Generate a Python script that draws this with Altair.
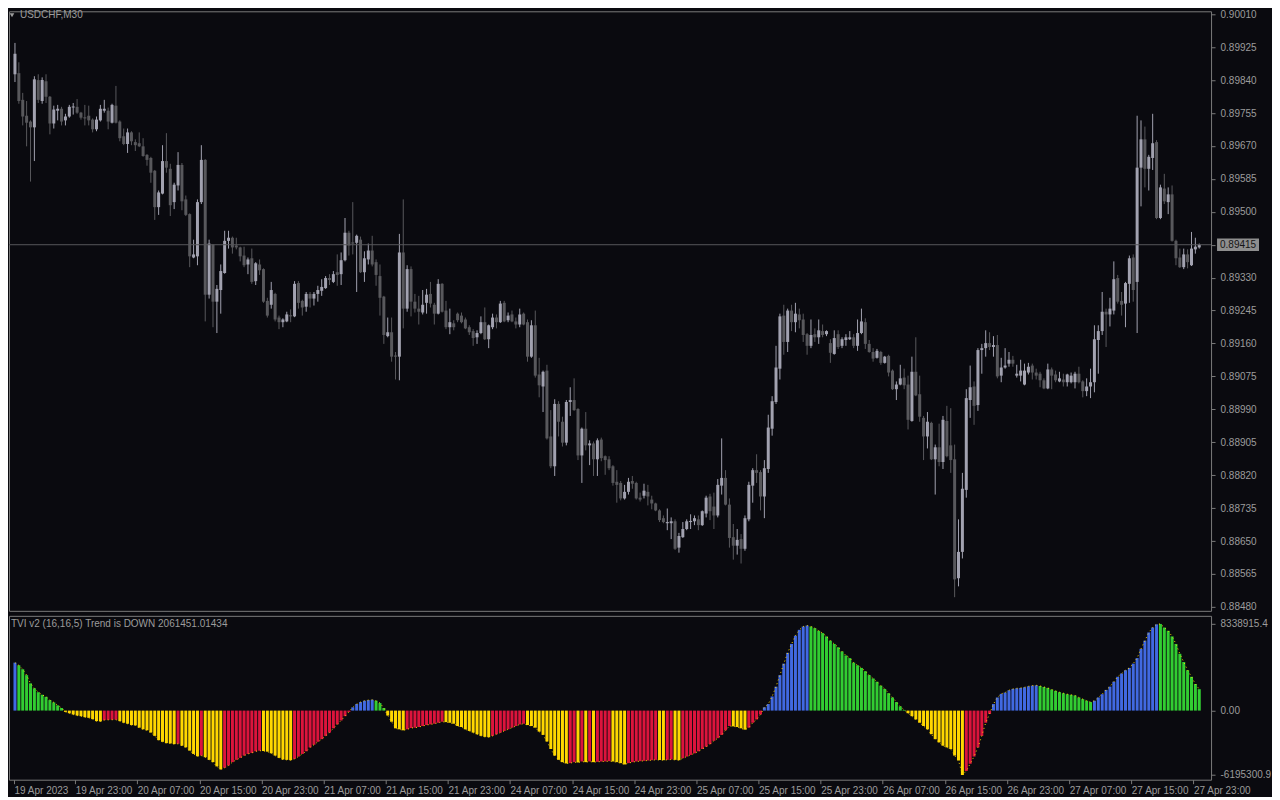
import altair as alt
import pandas as pd

SYMBOL_TITLE = "USDCHF,M30"
TVI_TITLE = "TVI v2 (16,16,5) Trend is DOWN 2061451.01434"
LAST_PRICE = 0.89415

open_ = [
    0.89855, 0.89858, 0.89789, 0.89748, 0.89733, 0.89718, 0.89840, 0.89786, 0.89837, 0.89797,
    0.89728, 0.89761, 0.89766, 0.89736, 0.89746, 0.89769, 0.89771, 0.89756, 0.89743, 0.89748,
    0.89738, 0.89713, 0.89736, 0.89761, 0.89761, 0.89730, 0.89774, 0.89733, 0.89695, 0.89675,
    0.89705, 0.89680, 0.89677, 0.89669, 0.89647, 0.89639, 0.89606, 0.89512, 0.89547, 0.89631,
    0.89611, 0.89525, 0.89568, 0.89621, 0.89532, 0.89494, 0.89382, 0.89385, 0.89525, 0.89634,
    0.89286, 0.89415, 0.89268, 0.89298, 0.89342, 0.89425, 0.89433, 0.89413, 0.89408, 0.89387,
    0.89364, 0.89380, 0.89321, 0.89364, 0.89352, 0.89270, 0.89260, 0.89288, 0.89227, 0.89215,
    0.89217, 0.89232, 0.89230, 0.89316, 0.89270, 0.89255, 0.89288, 0.89276, 0.89288, 0.89296,
    0.89303, 0.89329, 0.89319, 0.89344, 0.89339, 0.89375, 0.89446, 0.89420, 0.89420, 0.89428,
    0.89344, 0.89377, 0.89400, 0.89370, 0.89334, 0.89281, 0.89179, 0.89189, 0.89128, 0.89126,
    0.89395, 0.89250, 0.89352, 0.89268, 0.89250, 0.89240, 0.89265, 0.89288, 0.89260, 0.89237,
    0.89314, 0.89245, 0.89202, 0.89212, 0.89237, 0.89232, 0.89222, 0.89202, 0.89192, 0.89176,
    0.89187, 0.89215, 0.89171, 0.89202, 0.89227, 0.89215, 0.89265, 0.89220, 0.89235, 0.89217,
    0.89209, 0.89237, 0.89215, 0.89126, 0.89207, 0.89080, 0.89049, 0.89090, 0.88920, 0.88843,
    0.89004, 0.88958, 0.88904, 0.89009, 0.89014, 0.88991, 0.88871, 0.88940, 0.88897, 0.88902,
    0.88861, 0.88912, 0.88869, 0.88861, 0.88843, 0.88803, 0.88800, 0.88760, 0.88777, 0.88805,
    0.88800, 0.88762, 0.88767, 0.88777, 0.88757, 0.88747, 0.88729, 0.88709, 0.88696, 0.88696,
    0.88701, 0.88633, 0.88660, 0.88681, 0.88699, 0.88701, 0.88706, 0.88691, 0.88721, 0.88765,
    0.88739, 0.88716, 0.88793, 0.88813, 0.88744, 0.88660, 0.88638, 0.88655, 0.88630, 0.88706,
    0.88793, 0.88833, 0.88828, 0.88765, 0.88836, 0.88940, 0.89009, 0.89095, 0.89232, 0.89164,
    0.89245, 0.89215, 0.89235, 0.89222, 0.89184, 0.89154, 0.89184, 0.89176, 0.89192, 0.89184,
    0.89161, 0.89133, 0.89184, 0.89154, 0.89169, 0.89171, 0.89176, 0.89154, 0.89187, 0.89215,
    0.89159, 0.89138, 0.89123, 0.89138, 0.89110, 0.89128, 0.89090, 0.89042, 0.89054, 0.89072,
    0.89054, 0.88960, 0.89087, 0.89029, 0.88968, 0.88920, 0.88955, 0.88861, 0.88892, 0.88854,
    0.88960, 0.88897, 0.88861, 0.88554, 0.88622, 0.88782, 0.89014, 0.89049, 0.89001, 0.89143,
    0.89148, 0.89161, 0.89151, 0.89156, 0.89077, 0.89098, 0.89108, 0.89118, 0.89077, 0.89077,
    0.89054, 0.89085, 0.89103, 0.89085, 0.89082, 0.89065, 0.89044, 0.89093, 0.89080, 0.89062,
    0.89067, 0.89060, 0.89060, 0.89060, 0.89082, 0.89062, 0.89037, 0.89049, 0.89060, 0.89169,
    0.89192, 0.89242, 0.89235, 0.89245, 0.89329, 0.89270, 0.89263, 0.89314, 0.89382, 0.89319,
    0.89614, 0.89687, 0.89611, 0.89639, 0.89680, 0.89484, 0.89560, 0.89525, 0.89545, 0.89425,
    0.89382, 0.89357, 0.89390, 0.89362, 0.89403, 0.89408,
]
high = [
    0.89936, 0.89886, 0.89807, 0.89786, 0.89736, 0.89850, 0.89855, 0.89847, 0.89855, 0.89799,
    0.89774, 0.89776, 0.89771, 0.89753, 0.89776, 0.89781, 0.89791, 0.89758, 0.89776, 0.89774,
    0.89741, 0.89746, 0.89776, 0.89789, 0.89769, 0.89779, 0.89825, 0.89736, 0.89715, 0.89715,
    0.89708, 0.89687, 0.89705, 0.89690, 0.89649, 0.89642, 0.89608, 0.89555, 0.89672, 0.89703,
    0.89624, 0.89575, 0.89654, 0.89626, 0.89542, 0.89496, 0.89428, 0.89532, 0.89672, 0.89636,
    0.89428, 0.89417, 0.89311, 0.89364, 0.89451, 0.89451, 0.89436, 0.89433, 0.89410, 0.89410,
    0.89382, 0.89405, 0.89370, 0.89377, 0.89354, 0.89278, 0.89319, 0.89291, 0.89232, 0.89225,
    0.89242, 0.89248, 0.89321, 0.89321, 0.89273, 0.89293, 0.89293, 0.89293, 0.89309, 0.89326,
    0.89334, 0.89339, 0.89347, 0.89390, 0.89395, 0.89484, 0.89451, 0.89525, 0.89441, 0.89436,
    0.89398, 0.89418, 0.89438, 0.89377, 0.89364, 0.89283, 0.89227, 0.89227, 0.89138, 0.89443,
    0.89532, 0.89362, 0.89359, 0.89288, 0.89283, 0.89298, 0.89301, 0.89319, 0.89265, 0.89326,
    0.89316, 0.89270, 0.89250, 0.89220, 0.89240, 0.89240, 0.89227, 0.89207, 0.89197, 0.89194,
    0.89230, 0.89253, 0.89209, 0.89237, 0.89235, 0.89270, 0.89270, 0.89240, 0.89245, 0.89227,
    0.89250, 0.89240, 0.89222, 0.89220, 0.89245, 0.89123, 0.89090, 0.89105, 0.88988, 0.89016,
    0.89011, 0.88971, 0.89014, 0.89047, 0.89070, 0.88993, 0.88943, 0.88983, 0.88910, 0.88907,
    0.88915, 0.88917, 0.88871, 0.88869, 0.88846, 0.88833, 0.88805, 0.88795, 0.88813, 0.88818,
    0.88803, 0.88775, 0.88798, 0.88795, 0.88767, 0.88749, 0.88732, 0.88716, 0.88734, 0.88711,
    0.88706, 0.88671, 0.88699, 0.88706, 0.88719, 0.88716, 0.88716, 0.88729, 0.88767, 0.88772,
    0.88775, 0.88810, 0.88915, 0.88833, 0.88760, 0.88694, 0.88681, 0.88668, 0.88716, 0.88803,
    0.88838, 0.88874, 0.88833, 0.88859, 0.88976, 0.89024, 0.89154, 0.89237, 0.89260, 0.89250,
    0.89260, 0.89265, 0.89250, 0.89237, 0.89187, 0.89222, 0.89199, 0.89222, 0.89209, 0.89194,
    0.89171, 0.89194, 0.89194, 0.89176, 0.89184, 0.89192, 0.89184, 0.89222, 0.89250, 0.89225,
    0.89169, 0.89148, 0.89146, 0.89141, 0.89128, 0.89131, 0.89093, 0.89062, 0.89105, 0.89095,
    0.89077, 0.89126, 0.89176, 0.89077, 0.88973, 0.88983, 0.88958, 0.88899, 0.88953, 0.88973,
    0.88999, 0.88993, 0.88899, 0.88706, 0.88826, 0.89042, 0.89103, 0.89062, 0.89148, 0.89159,
    0.89194, 0.89189, 0.89179, 0.89182, 0.89123, 0.89148, 0.89138, 0.89128, 0.89105, 0.89118,
    0.89108, 0.89110, 0.89108, 0.89095, 0.89087, 0.89070, 0.89108, 0.89098, 0.89090, 0.89087,
    0.89082, 0.89082, 0.89085, 0.89087, 0.89100, 0.89065, 0.89070, 0.89095, 0.89207, 0.89207,
    0.89293, 0.89250, 0.89278, 0.89372, 0.89337, 0.89293, 0.89319, 0.89387, 0.89390, 0.89748,
    0.89736, 0.89720, 0.89647, 0.89753, 0.89685, 0.89570, 0.89598, 0.89563, 0.89568, 0.89428,
    0.89405, 0.89405, 0.89403, 0.89448, 0.89433, 0.89418,
]
low = [
    0.89835, 0.89779, 0.89723, 0.89669, 0.89578, 0.89631, 0.89781, 0.89779, 0.89781, 0.89700,
    0.89715, 0.89736, 0.89723, 0.89723, 0.89743, 0.89751, 0.89753, 0.89738, 0.89723, 0.89723,
    0.89705, 0.89708, 0.89733, 0.89756, 0.89713, 0.89728, 0.89728, 0.89682, 0.89672, 0.89652,
    0.89672, 0.89657, 0.89667, 0.89642, 0.89619, 0.89575, 0.89479, 0.89492, 0.89545, 0.89601,
    0.89489, 0.89507, 0.89555, 0.89504, 0.89489, 0.89357, 0.89380, 0.89362, 0.89520, 0.89217,
    0.89276, 0.89202, 0.89187, 0.89237, 0.89340, 0.89405, 0.89392, 0.89403, 0.89372, 0.89357,
    0.89339, 0.89314, 0.89311, 0.89337, 0.89265, 0.89227, 0.89250, 0.89217, 0.89197, 0.89202,
    0.89215, 0.89215, 0.89228, 0.89250, 0.89232, 0.89242, 0.89253, 0.89258, 0.89268, 0.89283,
    0.89301, 0.89311, 0.89316, 0.89309, 0.89311, 0.89372, 0.89387, 0.89390, 0.89293, 0.89342,
    0.89319, 0.89364, 0.89359, 0.89309, 0.89232, 0.89159, 0.89176, 0.89113, 0.89067, 0.89065,
    0.89199, 0.89242, 0.89230, 0.89240, 0.89209, 0.89235, 0.89237, 0.89253, 0.89209, 0.89235,
    0.89240, 0.89197, 0.89184, 0.89194, 0.89215, 0.89212, 0.89197, 0.89182, 0.89154, 0.89159,
    0.89184, 0.89169, 0.89148, 0.89197, 0.89199, 0.89213, 0.89215, 0.89215, 0.89215, 0.89199,
    0.89202, 0.89207, 0.89113, 0.89123, 0.89072, 0.89021, 0.88983, 0.88912, 0.88838, 0.88818,
    0.88920, 0.88894, 0.88897, 0.88973, 0.88986, 0.88859, 0.88800, 0.88884, 0.88846, 0.88818,
    0.88818, 0.88856, 0.88821, 0.88833, 0.88793, 0.88749, 0.88755, 0.88757, 0.88770, 0.88785,
    0.88757, 0.88752, 0.88760, 0.88742, 0.88732, 0.88727, 0.88699, 0.88696, 0.88678, 0.88655,
    0.88627, 0.88620, 0.88658, 0.88678, 0.88681, 0.88691, 0.88678, 0.88689, 0.88711, 0.88704,
    0.88681, 0.88711, 0.88770, 0.88742, 0.88633, 0.88602, 0.88615, 0.88592, 0.88625, 0.88701,
    0.88749, 0.88800, 0.88729, 0.88709, 0.88826, 0.88922, 0.89004, 0.89067, 0.89131, 0.89138,
    0.89192, 0.89189, 0.89199, 0.89164, 0.89131, 0.89148, 0.89164, 0.89159, 0.89176, 0.89179,
    0.89110, 0.89131, 0.89146, 0.89148, 0.89154, 0.89169, 0.89148, 0.89141, 0.89184, 0.89146,
    0.89136, 0.89113, 0.89121, 0.89105, 0.89108, 0.89075, 0.89040, 0.89014, 0.89052, 0.89042,
    0.88938, 0.88958, 0.89024, 0.88958, 0.88859, 0.88889, 0.88859, 0.88770, 0.88843, 0.88836,
    0.88866, 0.88826, 0.88505, 0.88533, 0.88605, 0.88762, 0.88968, 0.88950, 0.88986, 0.89082,
    0.89126, 0.89143, 0.89126, 0.89070, 0.89060, 0.89095, 0.89100, 0.89100, 0.89072, 0.89062,
    0.89052, 0.89080, 0.89067, 0.89067, 0.89047, 0.89042, 0.89042, 0.89042, 0.89060, 0.89060,
    0.89049, 0.89049, 0.89057, 0.89044, 0.89057, 0.89021, 0.89024, 0.89019, 0.89034, 0.89082,
    0.89182, 0.89151, 0.89204, 0.89235, 0.89263, 0.89232, 0.89202, 0.89265, 0.89268, 0.89187,
    0.89514, 0.89563, 0.89555, 0.89608, 0.89481, 0.89481, 0.89520, 0.89494, 0.89423, 0.89362,
    0.89355, 0.89352, 0.89354, 0.89360, 0.89392, 0.89405,
]
close = [
    0.89908, 0.89786, 0.89746, 0.89730, 0.89718, 0.89842, 0.89789, 0.89840, 0.89797, 0.89728,
    0.89764, 0.89766, 0.89733, 0.89746, 0.89771, 0.89771, 0.89756, 0.89743, 0.89741, 0.89736,
    0.89713, 0.89738, 0.89766, 0.89766, 0.89733, 0.89776, 0.89730, 0.89690, 0.89675, 0.89705,
    0.89682, 0.89672, 0.89669, 0.89644, 0.89634, 0.89601, 0.89512, 0.89550, 0.89631, 0.89614,
    0.89517, 0.89570, 0.89621, 0.89527, 0.89492, 0.89385, 0.89390, 0.89525, 0.89634, 0.89286,
    0.89418, 0.89268, 0.89301, 0.89347, 0.89425, 0.89433, 0.89408, 0.89408, 0.89385, 0.89362,
    0.89377, 0.89319, 0.89367, 0.89349, 0.89268, 0.89232, 0.89298, 0.89222, 0.89215, 0.89222,
    0.89235, 0.89230, 0.89314, 0.89265, 0.89253, 0.89288, 0.89276, 0.89288, 0.89298, 0.89306,
    0.89329, 0.89324, 0.89339, 0.89337, 0.89375, 0.89446, 0.89413, 0.89418, 0.89438, 0.89344,
    0.89380, 0.89400, 0.89364, 0.89337, 0.89278, 0.89182, 0.89189, 0.89126, 0.89126, 0.89395,
    0.89250, 0.89352, 0.89268, 0.89250, 0.89242, 0.89260, 0.89286, 0.89263, 0.89237, 0.89314,
    0.89242, 0.89202, 0.89215, 0.89202, 0.89220, 0.89215, 0.89199, 0.89189, 0.89174, 0.89187,
    0.89215, 0.89171, 0.89207, 0.89227, 0.89215, 0.89263, 0.89217, 0.89232, 0.89217, 0.89209,
    0.89235, 0.89209, 0.89126, 0.89207, 0.89077, 0.89052, 0.89087, 0.88915, 0.88843, 0.89004,
    0.88958, 0.88904, 0.89009, 0.89014, 0.88988, 0.88871, 0.88940, 0.88897, 0.88902, 0.88861,
    0.88910, 0.88864, 0.88859, 0.88838, 0.88800, 0.88795, 0.88760, 0.88777, 0.88803, 0.88798,
    0.88760, 0.88757, 0.88780, 0.88765, 0.88747, 0.88729, 0.88704, 0.88699, 0.88699, 0.88701,
    0.88630, 0.88663, 0.88681, 0.88701, 0.88701, 0.88709, 0.88691, 0.88727, 0.88762, 0.88727,
    0.88716, 0.88795, 0.88813, 0.88744, 0.88658, 0.88638, 0.88653, 0.88630, 0.88709, 0.88795,
    0.88833, 0.88826, 0.88765, 0.88838, 0.88943, 0.89011, 0.89098, 0.89230, 0.89164, 0.89245,
    0.89215, 0.89237, 0.89220, 0.89182, 0.89154, 0.89182, 0.89176, 0.89194, 0.89182, 0.89192,
    0.89136, 0.89174, 0.89151, 0.89171, 0.89176, 0.89176, 0.89154, 0.89187, 0.89217, 0.89159,
    0.89138, 0.89121, 0.89141, 0.89110, 0.89126, 0.89085, 0.89042, 0.89054, 0.89070, 0.89052,
    0.88963, 0.89087, 0.89026, 0.88971, 0.88920, 0.88958, 0.88861, 0.88892, 0.88854, 0.88963,
    0.88869, 0.88859, 0.88551, 0.88622, 0.88785, 0.89019, 0.89047, 0.88999, 0.89143, 0.89148,
    0.89161, 0.89151, 0.89156, 0.89075, 0.89098, 0.89103, 0.89118, 0.89108, 0.89082, 0.89090,
    0.89090, 0.89100, 0.89085, 0.89077, 0.89065, 0.89044, 0.89093, 0.89077, 0.89065, 0.89070,
    0.89060, 0.89080, 0.89077, 0.89082, 0.89060, 0.89037, 0.89049, 0.89060, 0.89171, 0.89192,
    0.89242, 0.89235, 0.89250, 0.89326, 0.89268, 0.89260, 0.89316, 0.89380, 0.89298, 0.89614,
    0.89687, 0.89611, 0.89642, 0.89677, 0.89484, 0.89563, 0.89527, 0.89545, 0.89425, 0.89380,
    0.89357, 0.89390, 0.89370, 0.89405, 0.89410, 0.89415,
]

tvi = [
    4613600, 4360800, 3981600, 3412800, 2622800, 2148800, 1769600, 1516800, 1327200, 1011200,
    790000, 505600, 252800, -126400, -252800, -379200, -474000, -537200, -632000, -695200,
    -821600, -1011200, -1042800, -916400, -890000, -880000, -875000, -1011200, -1169200, -1264000,
    -1390400, -1422000, -1643200, -1801200, -1896000, -2117200, -2433200, -2844000, -3002000, -3128400,
    -3160000, -3223200, -3191600, -3381200, -3539200, -3855200, -4171200, -4392400, -4329200, -4487200,
    -4740000, -4961200, -5372000, -5656400, -5498400, -5277200, -4961200, -4740000, -4550400, -4329200,
    -4171200, -4076400, -3918400, -3855200, -3886800, -3950000, -4108000, -4329200, -4550400, -4708400,
    -4740000, -4771600, -4645200, -4424000, -4171200, -3918400, -3539200, -3286400, -3002000, -2749200,
    -2433200, -2117200, -1706400, -1327200, -948000, -537200, -126400, 316000, 632000, 821600,
    948000, 1011200, 1042800, 948000, 726800, 252800, -474000, -1074400, -1706400, -1801200,
    -1896000, -1801200, -1674800, -1643200, -1580000, -1485200, -1390400, -1327200, -1264000, -1169200,
    -1074400, -1106000, -1169200, -1264000, -1485200, -1580000, -1801200, -1959200, -2117200, -2275200,
    -2433200, -2528000, -2559600, -2433200, -2275200, -2117200, -1959200, -1801200, -1643200, -1485200,
    -1327200, -1264000, -1390400, -1485200, -1643200, -2022400, -2338400, -2970400, -3697200, -4329200,
    -4740000, -4961200, -5087600, -5056000, -4961200, -4992800, -4898000, -4961200, -4898000, -4961200,
    -4929600, -4898000, -4890000, -4866400, -4898000, -4961200, -5056000, -5182400, -5056000, -4961200,
    -4898000, -4866400, -4834800, -4803200, -4771600, -4740000, -4755000, -4771600, -4740000, -4708400,
    -4740000, -4771600, -4582000, -4424000, -4266000, -4108000, -3918400, -3697200, -3476000, -3223200,
    -2907200, -2654400, -2338400, -1896000, -1485200, -1516800, -1580000, -1706400, -1832800, -1643200,
    -1169200, -853200, -379200, 316000, 632000, 1358800, 2306800, 3412800, 4518800, 5561600,
    6414800, 7204800, 7773600, 8089600, 8184400, 8089600, 7931600, 7678800, 7457600, 7141600,
    6730800, 6414800, 6098800, 5688000, 5308800, 5056000, 4613600, 4360800, 4108000, 3792000,
    3412800, 3096800, 2780800, 2401600, 2085600, 1674800, 1264000, 821600, 410800, 63200,
    -252800, -537200, -853200, -1169200, -1485200, -1801200, -2275200, -2749200, -3065200, -3381200,
    -3539200, -3697200, -4329200, -4803200, -6195300, -5814400, -5119200, -4424000, -3539200, -2433200,
    -1169200, -316000, 632000, 1264000, 1611600, 1738000, 1959200, 2085600, 2148800, 2180400,
    2243600, 2338400, 2401600, 2433200, 2370000, 2275200, 2180400, 2022400, 1896000, 1769600,
    1674800, 1580000, 1516800, 1453600, 1264000, 1106000, 948000, 821600, 948000, 1264000,
    1580000, 1990800, 2306800, 2780800, 3254800, 3570800, 3886800, 4108000, 4518800, 5056000,
    5940800, 6730800, 7520800, 7994800, 8300000, 8338915, 7994800, 7678800, 7141600, 6414800,
    5466800, 4676800, 3886800, 3254800, 2560000, 2061451,
]

# colour state of each TVI bar, as (state, number of consecutive bars)
tvi_color_runs = [
    ("blue", 1), ("green", 12), ("yellow", 10), ("red", 4), ("yellow", 15), ("red", 1),
    ("yellow", 5), ("red", 1), ("yellow", 5), ("red", 10), ("yellow", 8), ("red", 15),
    ("blue", 6), ("green", 3), ("yellow", 5), ("red", 10), ("yellow", 12), ("red", 9),
    ("yellow", 11), ("red", 2), ("yellow", 1), ("red", 1), ("yellow", 1), ("red", 1),
    ("yellow", 1), ("red", 4), ("yellow", 4), ("red", 8), ("yellow", 2), ("red", 2),
    ("yellow", 2), ("red", 13), ("yellow", 4), ("red", 4), ("blue", 12), ("green", 25),
    ("yellow", 15), ("red", 7), ("blue", 12), ("green", 14), ("blue", 17), ("green", 11),
]

price_ticks = [
    0.90010, 0.89925, 0.89840, 0.89755, 0.89670, 0.89585, 0.89500, 0.89415, 0.89330, 0.89245,
    0.89160, 0.89075, 0.88990, 0.88905, 0.88820, 0.88735, 0.88650, 0.88565, 0.88480,
]
time_labels = [
    "19 Apr 2023", "19 Apr 23:00", "20 Apr 07:00", "20 Apr 15:00", "20 Apr 23:00",
    "21 Apr 07:00", "21 Apr 15:00", "21 Apr 23:00", "24 Apr 07:00", "24 Apr 15:00",
    "24 Apr 23:00", "25 Apr 07:00", "25 Apr 15:00", "25 Apr 23:00", "26 Apr 07:00",
    "26 Apr 15:00", "26 Apr 23:00", "27 Apr 07:00", "27 Apr 15:00", "27 Apr 23:00",
]
tvi_ticks = [8338915.4, 0.0, -6195300.9]
tvi_tick_text = ["8338915.4", "0.00", "-6195300.9"]

# ---------------- styling ----------------
BG = "#0a0a0f"
FRAME = "#7a7a7a"
TEXT = "#9c9c9c"
BULL = "#a2a2b0"
BEAR = "#58585c"
FONT = "Liberation Sans"
FS = 10
TVI_COLORS = {"blue": "#4169E1", "green": "#32CD32", "yellow": "#FFD700", "red": "#DC143C"}

W, H_TOP, H_BOT = 1203, 600, 164
X_DOMAIN = [-0.25, 306.75]
BARS_PER_LABEL = 16

n = len(close)
candles = pd.DataFrame({"i": list(range(n)), "o": open_, "h": high, "l": low, "c": close})
candles["dir"] = ["bull" if c > o else "bear" for o, c in zip(open_, close)]

states = []
for name, count in tvi_color_runs:
    states.extend([name] * count)
hist = pd.DataFrame({"i": list(range(n)), "v": tvi, "col": states})

# ---------------- price panel ----------------
x_top = alt.X("i:Q", scale=alt.Scale(domain=X_DOMAIN, nice=False, zero=False), axis=None)
y_scale = alt.Scale(domain=[0.884698, 0.900176], nice=False, zero=False)
top_axis = alt.Axis(
    orient="right", values=price_ticks, format=".5f", title=None, grid=False,
    domain=False, tickSize=4, labelPadding=5, labelFlush=False, labelOverlap=False,
)


def y_price(field):
    return alt.Y(field, scale=y_scale, axis=top_axis)


candle_color = alt.Color(
    "dir:N", scale=alt.Scale(domain=["bull", "bear"], range=[BULL, BEAR]), legend=None
)

base = alt.Chart(candles)
wicks = base.mark_rule(strokeWidth=1).encode(
    x=x_top, y=y_price("l:Q"), y2="h:Q", color=candle_color
)
bodies = base.transform_calculate(
    lo="min(datum.o, datum.c)",
    hi="max(datum.o, datum.c, min(datum.o, datum.c) + 0.00003)",
).mark_bar(size=3).encode(x=x_top, y=y_price("lo:Q"), y2="hi:Q", color=candle_color)

last_df = pd.DataFrame({"p": [LAST_PRICE], "t": [f"{LAST_PRICE:.5f}"]})
price_line = alt.Chart(last_df).mark_rule(color="#56565a", strokeWidth=1).encode(y=y_price("p:Q"))
price_box = alt.Chart(last_df).mark_point(
    shape="M-1,-0.3H1V0.3H-1Z", filled=True, size=42 * 42, color="#8e8e8e", opacity=1, strokeWidth=0
).encode(x=alt.value(W + 27), y=y_price("p:Q"))
price_text = alt.Chart(last_df).mark_text(
    align="left", baseline="middle", font=FONT, fontSize=FS, color="#151515"
).encode(x=alt.value(W + 9), y=y_price("p:Q"), text="t:N")

sym_df = pd.DataFrame({"t": [SYMBOL_TITLE]})
sym_tri = alt.Chart(sym_df).mark_point(
    shape="triangle-down", filled=True, size=22, color=TEXT, opacity=1
).encode(x=alt.value(3), y=alt.value(4))
sym_text = alt.Chart(sym_df).mark_text(
    align="left", baseline="middle", font=FONT, fontSize=FS, color=TEXT
).encode(x=alt.value(11), y=alt.value(4), text="t:N")

top = alt.layer(
    wicks, bodies, price_line, price_box, price_text, sym_tri, sym_text
).properties(width=W, height=H_TOP)

# ---------------- TVI panel ----------------
tick_values = [max(BARS_PER_LABEL * k - 0.5, X_DOMAIN[0]) for k in range(len(time_labels))]
label_array = "[" + ",".join("'" + s + "'" for s in time_labels) + "]"
x_bot = alt.X(
    "i:Q",
    scale=alt.Scale(domain=X_DOMAIN, nice=False, zero=False),
    axis=alt.Axis(
        values=tick_values,
        labelExpr=label_array + "[round((datum.value + 0.5) / " + str(BARS_PER_LABEL) + ")]",
        title=None, grid=False, domain=False, tickSize=4, labelPadding=2,
        labelAlign="left", labelFlush=False, labelOverlap=False, labelBound=False,
    ),
)
tvi_label_expr = (
    "datum.value > 1 ? '" + tvi_tick_text[0] + "' : (datum.value < -1 ? '"
    + tvi_tick_text[2] + "' : '" + tvi_tick_text[1] + "')"
)
y_bot = alt.Y(
    "v:Q",
    scale=alt.Scale(domain=[-6650000, 9120000], nice=False, zero=False),
    axis=alt.Axis(
        orient="right", values=tvi_ticks, labelExpr=tvi_label_expr, title=None, grid=False,
        domain=False, tickSize=4, labelPadding=5, labelFlush=False, labelOverlap=False,
    ),
)
bars = alt.Chart(hist).mark_bar(size=3).encode(
    x=x_bot,
    y=y_bot,
    y2=alt.datum(0),
    color=alt.Color(
        "col:N",
        scale=alt.Scale(domain=list(TVI_COLORS.keys()), range=list(TVI_COLORS.values())),
        legend=None,
    ),
)
dots = alt.Chart(hist).mark_line(
    color="#FFD700", strokeWidth=1, strokeDash=[1, 3]
).encode(x=x_bot, y=y_bot)

tvi_df = pd.DataFrame({"t": [TVI_TITLE]})
tvi_text = alt.Chart(tvi_df).mark_text(
    align="left", baseline="middle", font=FONT, fontSize=FS, color=TEXT
).encode(x=alt.value(2), y=alt.value(8), text="t:N")

bottom = alt.layer(bars, dots, tvi_text).properties(width=W, height=H_BOT)

chart = (
    alt.vconcat(top, bottom, spacing=2)
    .resolve_scale(color="independent", x="independent", y="independent")
    .properties(background=BG, padding={"left": 0, "top": 0, "right": 0, "bottom": 0})
    .configure_view(stroke=FRAME, strokeWidth=1)
    .configure_axis(
        labelFont=FONT, labelFontSize=FS, labelColor=TEXT, tickColor=FRAME, tickWidth=1,
        labelOverlap=False,
    )
)

chart.save("out.html", embed_options={"renderer": "svg", "actions": False})
